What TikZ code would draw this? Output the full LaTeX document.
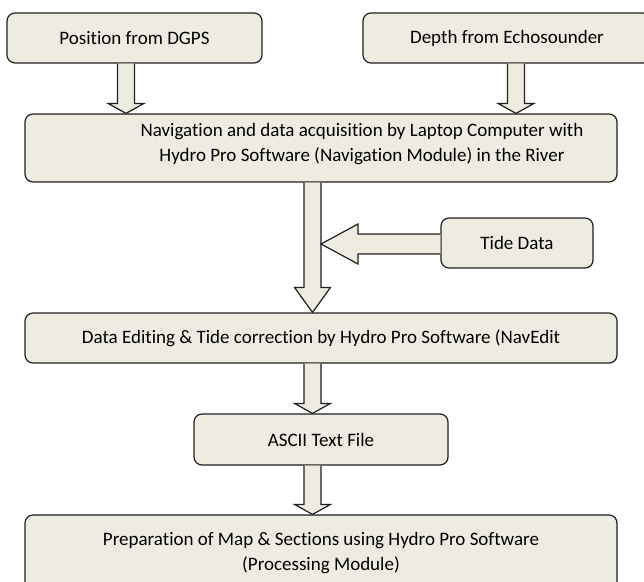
\documentclass[tikz,border=0pt]{standalone}
\usepackage{fontspec}
\setmainfont{Carlito}[Ligatures=NoCommon]
\usetikzlibrary{calc}

\definecolor{boxfill}{HTML}{EEECE1}
\definecolor{boxline}{HTML}{1F1F1F}

\tikzset{
  flowbox/.style={draw=boxline, fill=boxfill, line width=1.2pt,
                  rounded corners=8pt, inner sep=0pt, align=center},
  blockarrow/.style={draw=boxline, fill=boxfill, line width=1.2pt,
                     line join=miter}
}

% hollow arrow pointing down: [head length]{from}{to}{x column}
\newcommand{\blockdown}[4][10]{%
  \filldraw[blockarrow] let \p1=(#2.south), \p2=(#3.north) in
    (#4pt-8.5pt,\y1) -- (#4pt-8.5pt,\y2+#1pt) -- (#4pt-18pt,\y2+#1pt)
    -- (#4pt,\y2) -- (#4pt+18pt,\y2+#1pt) -- (#4pt+8.5pt,\y2+#1pt)
    -- (#4pt+8.5pt,\y1);}
% hollow arrow pointing left: {from}{to}
\newcommand{\blockleft}[2]{%
  \filldraw[blockarrow] let \p1=(#1.west), \p2=(#2) in
    (\x1,\y2+10pt) -- (\x2+37pt,\y2+10pt) -- (\x2+37pt,\y2+20pt)
    -- (\x2,\y2) -- (\x2+37pt,\y2-20pt) -- (\x2+37pt,\y2-10pt)
    -- (\x1,\y2-10pt);}

\begin{document}
\begin{tikzpicture}[
  x=1pt, y=-1pt,
  every node/.style={font=\fontsize{19}{25}\selectfont}
]
\useasboundingbox (0,0) rectangle (644,581);
\clip (0,0) rectangle (644,581);

% ---- inputs ----
\node[flowbox, minimum width=255pt, minimum height=50pt] (dgps)
  at (134.5,38) {Position from DGPS};
\node[flowbox, minimum width=288pt, minimum height=50pt] (echo)
  at (507,38) {Depth from Echosounder};

% ---- acquisition ----
\node[flowbox, minimum width=592pt, minimum height=68pt] (nav)
  at (321,148) {};
\node[align=center, inner sep=0pt] (navtext) at (362,144.5)
  {Navigation and data acquisition by Laptop Computer with\\
   Hydro Pro Software (Navigation Module) in the River};

\node[flowbox, minimum width=152pt, minimum height=50pt] (tide)
  at (517,243) {Tide Data};

% ---- processing ----
\node[flowbox, minimum width=592pt, minimum height=50pt] (edit)
  at (321,338) {Data Editing \& Tide correction by Hydro Pro Software (NavEdit};
\node[flowbox, minimum width=254pt, minimum height=51pt] (ascii)
  at (321,439.5) {ASCII Text File};
\node[flowbox, minimum width=592pt, minimum height=76pt] (prep)
  at (321,553) {Preparation of Map \& Sections using Hydro Pro Software\\
                (Processing Module)};

\coordinate (merge) at (321,244);

% ---- arrows ----
\blockdown{dgps}{nav}{126}
\blockdown{echo}{nav}{516}
\blockdown[25]{nav}{edit}{312.5}
\blockleft{tide}{merge}
\blockdown{edit}{ascii}{312.5}
\blockdown{ascii}{prep}{312.5}

\end{tikzpicture}
\end{document}
